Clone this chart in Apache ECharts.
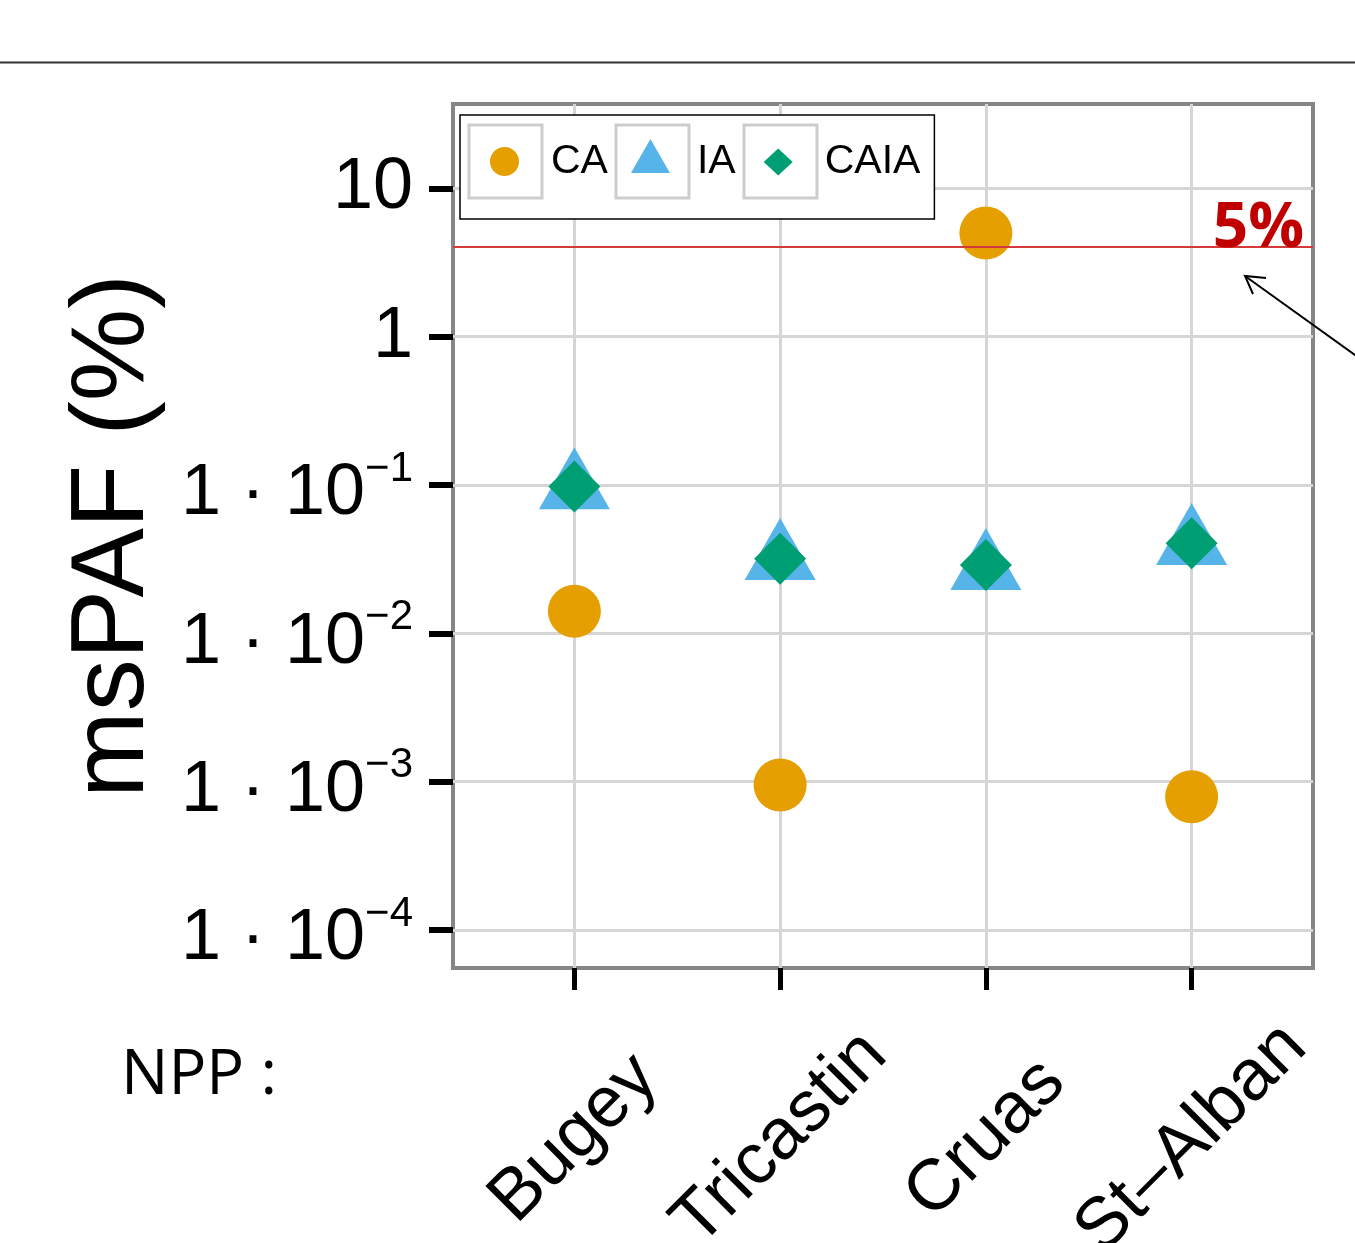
<!DOCTYPE html>
<html>
<head>
<meta charset="utf-8">
<script src="https://cdn.jsdelivr.net/npm/echarts@6/dist/echarts.min.js"></script>
<style>
  html, body { margin: 0; padding: 0; background: #ffffff; }
  #chart { width: 1355px; height: 1243px; }
</style>
</head>
<body>
<div id="chart"></div>
<script>
// ---- data ----
const categories = ['Bugey', 'Tricastin', 'Cruas', 'St–Alban'];
const caValues   = [0.0141, 0.00095, 5.0, 0.00079];
const iaValues   = [0.0953, 0.0317, 0.0272, 0.0400];
const caiaValues = [0.0977, 0.0319, 0.0289, 0.0405];
const thresholdValue = 4.05;
const thresholdLabel = '5%';
const yTicks = [1e-4, 1e-3, 1e-2, 1e-1, 1, 10];
const yTickLabels = ['1 · 10^−4', '1 · 10^−3', '1 · 10^−2', '1 · 10^−1', '1', '10'];
const xTicks = [0, 1, 2, 3];

// ---- helpers ----
const FONT = 'Liberation Sans';
function toPoints(vals) { return vals.map((v, i) => [i, v]); }
function yLabel(v) {
  let idx = -1;
  yTicks.forEach((t, i) => { if (Math.abs(Math.log10(t) - Math.log10(v)) < 1e-6) idx = i; });
  if (idx < 0) return '';
  const parts = yTickLabels[idx].split('^');
  if (parts.length === 2) return '{m|' + parts[0] + '}{s|' + parts[1] + '}';
  return '{p|' + parts[0] + '}';
}

const circleIcon   = 'path://M0 0M73 73M22 36.5A14.5 14.5 0 1 1 51 36.5A14.5 14.5 0 1 1 22 36.5Z';
const triangleIcon = 'path://M0 0M73 73M36.5 14L56 48L17 48Z';
const diamondIcon  = 'path://M0 0M73 73M36.5 23.5L51 37L36.5 50.5L22 37Z';

const chart = echarts.init(document.getElementById('chart'), null, { renderer: 'canvas' });

const option = {
  backgroundColor: '#ffffff',
  animation: false,
  grid: {
    left: 453, right: 42, top: 104, bottom: 275,
    containLabel: false, outerBoundsMode: 'none',
    show: true, borderColor: '#868686', borderWidth: 4, backgroundColor: 'transparent'
  },
  legend: {
    left: 460, top: 115, orient: 'horizontal',
    padding: [10, 14, 21, 8],
    itemWidth: 73, itemHeight: 73, itemGap: 6,
    borderColor: '#000', borderWidth: 1.5, backgroundColor: '#fff',
    selectedMode: false,
    textStyle: { fontSize: 41, fontFamily: FONT, color: '#000', padding: [5, 0, 0, 5] },
    data: [
      { name: 'CA', icon: circleIcon },
      { name: 'IA', icon: triangleIcon },
      { name: 'CAIA', icon: diamondIcon }
    ]
  },
  xAxis: {
    type: 'value', min: -0.59, max: 3.59,
    axisLine: { show: false, onZero: false },
    axisTick: { show: true, customValues: xTicks, length: 22, lineStyle: { color: '#000', width: 5 } },
    axisLabel: {
      customValues: xTicks,
      formatter: v => categories[Math.round(v)],
      rotate: 45, align: 'center', verticalAlign: 'middle', margin: 171,
      fontSize: 72, fontFamily: FONT, color: '#000'
    },
    splitLine: { show: true, customValues: xTicks, lineStyle: { color: '#d6d6d6', width: 3 } }
  },
  yAxis: {
    type: 'log', logBase: 10, min: 5.54e-5, max: 37.1,
    axisLine: { show: false, onZero: false },
    axisTick: { show: true, customValues: yTicks, length: 24, lineStyle: { color: '#000', width: 6 } },
    minorTick: { show: false },
    axisLabel: {
      customValues: yTicks,
      margin: 40,
      formatter: yLabel,
      rich: {
        m: { fontSize: 72, fontFamily: FONT, color: '#000', lineHeight: 74, padding: [19, 0, 0, 0], verticalAlign: 'middle' },
        s: { fontSize: 42, fontFamily: FONT, color: '#000', lineHeight: 55, verticalAlign: 'top' },
        p: { fontSize: 72, fontFamily: FONT, color: '#000', lineHeight: 74 }
      }
    },
    splitLine: { show: true, customValues: yTicks, lineStyle: { color: '#d6d6d6', width: 3 } },
    name: 'msPAF (%)', nameLocation: 'middle', nameGap: 287,
    nameTextStyle: { fontSize: 104, fontFamily: FONT, color: '#000' }
  },
  series: [
    {
      name: 'CA', type: 'scatter', data: toPoints(caValues),
      symbol: 'circle', symbolSize: 53,
      itemStyle: { color: '#E69F00', opacity: 1 }
    },
    {
      name: 'IA', type: 'scatter', data: toPoints(iaValues),
      symbol: 'triangle', symbolSize: [71, 62], symbolOffset: [0, -10],
      itemStyle: { color: '#56B4E9', opacity: 1 }
    },
    {
      name: 'CAIA', type: 'scatter', data: toPoints(caiaValues),
      symbol: 'diamond', symbolSize: [52, 52],
      itemStyle: { color: '#009E73', opacity: 1 },
      markLine: {
        silent: true, z: 6,
        symbol: ['none', 'none'],
        data: [{ yAxis: thresholdValue }],
        lineStyle: { color: '#d43a3a', width: 2, type: 'solid' },
        label: {
          show: true, formatter: thresholdLabel, position: 'insideEndTop', distance: [9, -14],
          fontSize: 62, fontWeight: 'bold', fontFamily: 'Open Sans', color: '#c00000', lineHeight: 62
        },
        emphasis: { disabled: true }
      }
    }
  ],
  graphic: [
    { type: 'line', shape: { x1: 0, y1: 62.5, x2: 1355, y2: 62.5 }, style: { stroke: '#333', lineWidth: 2 }, z: 100 },
    { type: 'rect', shape: { x: 469, y: 125, width: 73, height: 73 }, style: { fill: 'none', stroke: '#cdcdcd', lineWidth: 3 }, z: 100 },
    { type: 'rect', shape: { x: 616, y: 125, width: 73, height: 73 }, style: { fill: 'none', stroke: '#cdcdcd', lineWidth: 3 }, z: 100 },
    { type: 'rect', shape: { x: 744, y: 125, width: 73, height: 73 }, style: { fill: 'none', stroke: '#cdcdcd', lineWidth: 3 }, z: 100 },
    { type: 'text', x: 121, y: 1076, style: { text: 'NPP :', fontSize: 63, fontFamily: 'Open Sans', fill: '#000', textVerticalAlign: 'middle', verticalAlign: 'middle' }, z: 100 },
    { type: 'line', shape: { x1: 1362, y1: 360, x2: 1245, y2: 276 }, style: { stroke: '#000', lineWidth: 2 }, z: 100 },
    { type: 'polyline', shape: { points: [[1253, 294], [1245, 276], [1266, 278]] }, style: { fill: 'none', stroke: '#000', lineWidth: 2 }, z: 100 }
  ]
};

chart.setOption(option);
</script>
</body>
</html>
